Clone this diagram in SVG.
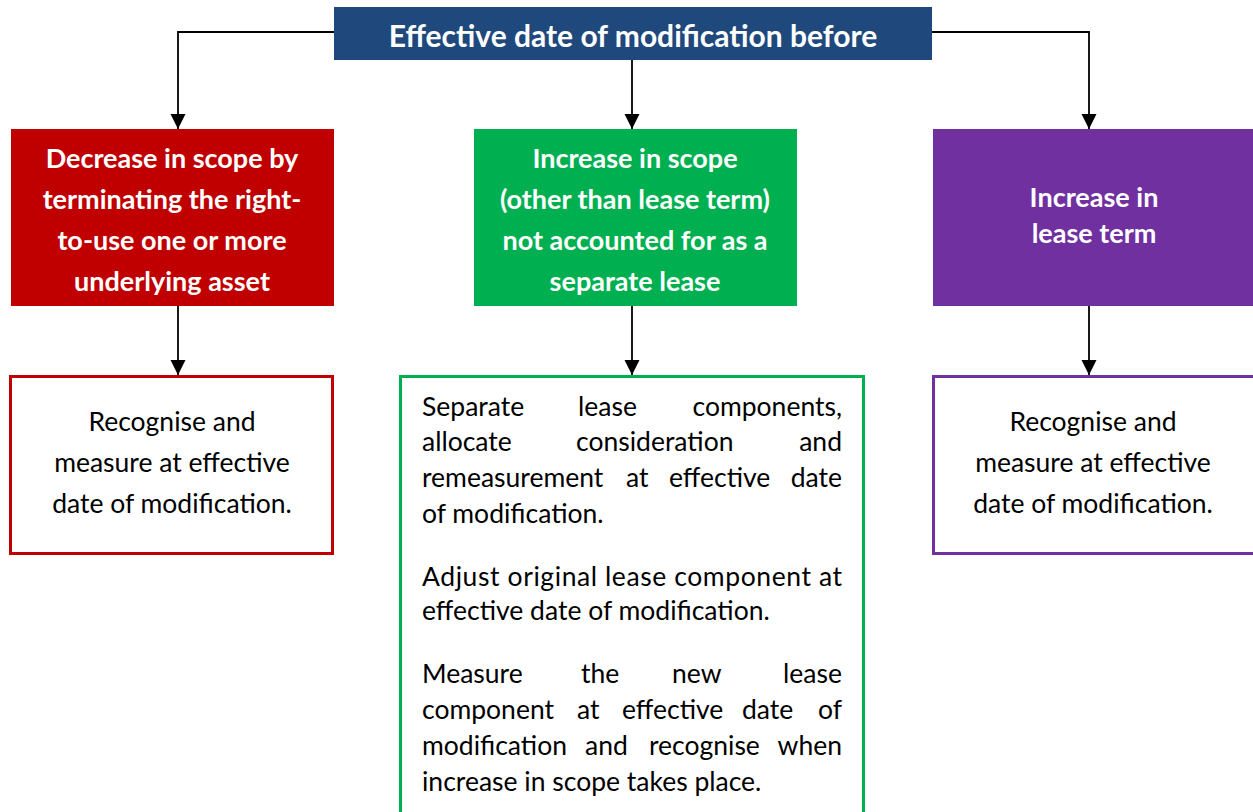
<svg xmlns="http://www.w3.org/2000/svg" width="1253" height="812" viewBox="0 0 1253 812">
<defs>
<style>
.hd{font-family:Lato,"Open Sans",sans-serif;font-weight:bold;fill:#fff;text-anchor:middle}
.bd{font-family:Lato,"Open Sans",sans-serif;font-size:26.5px;fill:#000}
.c{text-anchor:middle}
.ln{fill:none;stroke:#000;stroke-width:1.8}
</style>
<marker id="ah" markerUnits="userSpaceOnUse" markerWidth="16" markerHeight="16" refX="15" refY="7.5" orient="auto" viewBox="0 0 16 16">
<path d="M0,0 L15,7.5 L0,15 z" fill="#000"/>
</marker>
</defs>
<rect width="1253" height="812" fill="#fff"/>
<g id="connectors">
<path class="ln" d="M334,32 H178 V129" marker-end="url(#ah)"/>
<path class="ln" d="M632,60 V129" marker-end="url(#ah)"/>
<path class="ln" d="M932,32 H1089 V129" marker-end="url(#ah)"/>
<path class="ln" d="M178,306 V375" marker-end="url(#ah)"/>
<path class="ln" d="M632,306 V375" marker-end="url(#ah)"/>
<path class="ln" d="M1089,306 V375" marker-end="url(#ah)"/>
</g>
<g id="top">
<rect x="334" y="7" width="598" height="53" fill="#1F497D"/>
<text class="hd" x="633" y="47" font-size="30">Effective date of modification before</text>
</g>
<g id="decrease">
<rect x="11" y="129" width="323" height="177" fill="#C00000"/>
<text class="hd" font-size="27"><tspan x="172" y="168">Decrease in scope by</tspan><tspan x="172" y="209">terminating the right-</tspan><tspan x="172" y="250">to-use one or more</tspan><tspan x="172" y="291">underlying asset</tspan></text>
</g>
<g id="increase-scope">
<rect x="474" y="129" width="323" height="177" fill="#00B050"/>
<text class="hd" font-size="27"><tspan x="635" y="168">Increase in scope</tspan><tspan x="635" y="209">(other than lease term)</tspan><tspan x="635" y="250">not accounted for as a</tspan><tspan x="635" y="291">separate lease</tspan></text>
</g>
<g id="increase-term">
<rect x="933" y="129" width="330" height="177" fill="#7030A0"/>
<text class="hd" font-size="27"><tspan x="1094" y="207">Increase in</tspan><tspan x="1094" y="243">lease term</tspan></text>
</g>
<g id="result-decrease">
<rect x="10.5" y="376.5" width="322" height="177" fill="#fff" stroke="#C00000" stroke-width="3"/>
<text class="bd c"><tspan x="172" y="431">Recognise and</tspan><tspan x="172" y="472">measure at effective</tspan><tspan x="172" y="513">date of modification.</tspan></text>
</g>
<g id="result-scope">
<rect x="400.5" y="376.5" width="463" height="500" fill="#fff" stroke="#00B050" stroke-width="3"/>
<text class="bd"><tspan x="422" y="416">Separate</tspan><tspan x="578" y="416">lease</tspan><tspan x="842" y="416" text-anchor="end">components,</tspan></text>
<text class="bd"><tspan x="422" y="451">allocate</tspan><tspan x="576" y="451">consideration</tspan><tspan x="842" y="451" text-anchor="end">and</tspan></text>
<text class="bd"><tspan x="422" y="487">remeasurement</tspan><tspan x="626" y="487">at</tspan><tspan x="669" y="487">effective</tspan><tspan x="842" y="487" text-anchor="end">date</tspan></text>
<text class="bd" x="422" y="523">of modification.</text>
<text class="bd" x="422" y="586" textLength="420" lengthAdjust="spacing">Adjust original lease component at</text>
<text class="bd" x="422" y="620">effective date of modification.</text>
<text class="bd"><tspan x="422" y="683">Measure</tspan><tspan x="581" y="683">the</tspan><tspan x="672" y="683">new</tspan><tspan x="842" y="683" text-anchor="end">lease</tspan></text>
<text class="bd"><tspan x="422" y="719">component</tspan><tspan x="577" y="719">at</tspan><tspan x="622" y="719">effective</tspan><tspan x="742" y="719">date</tspan><tspan x="842" y="719" text-anchor="end">of</tspan></text>
<text class="bd"><tspan x="422" y="755">modification</tspan><tspan x="585" y="755">and</tspan><tspan x="649" y="755">recognise</tspan><tspan x="842" y="755" text-anchor="end">when</tspan></text>
<text class="bd" x="422" y="791">increase in scope takes place.</text>
</g>
<g id="result-term">
<rect x="933.5" y="376.5" width="400" height="177" fill="#fff" stroke="#7030A0" stroke-width="3"/>
<text class="bd c"><tspan x="1093" y="431">Recognise and</tspan><tspan x="1093" y="472">measure at effective</tspan><tspan x="1093" y="513">date of modification.</tspan></text>
</g>
</svg>
